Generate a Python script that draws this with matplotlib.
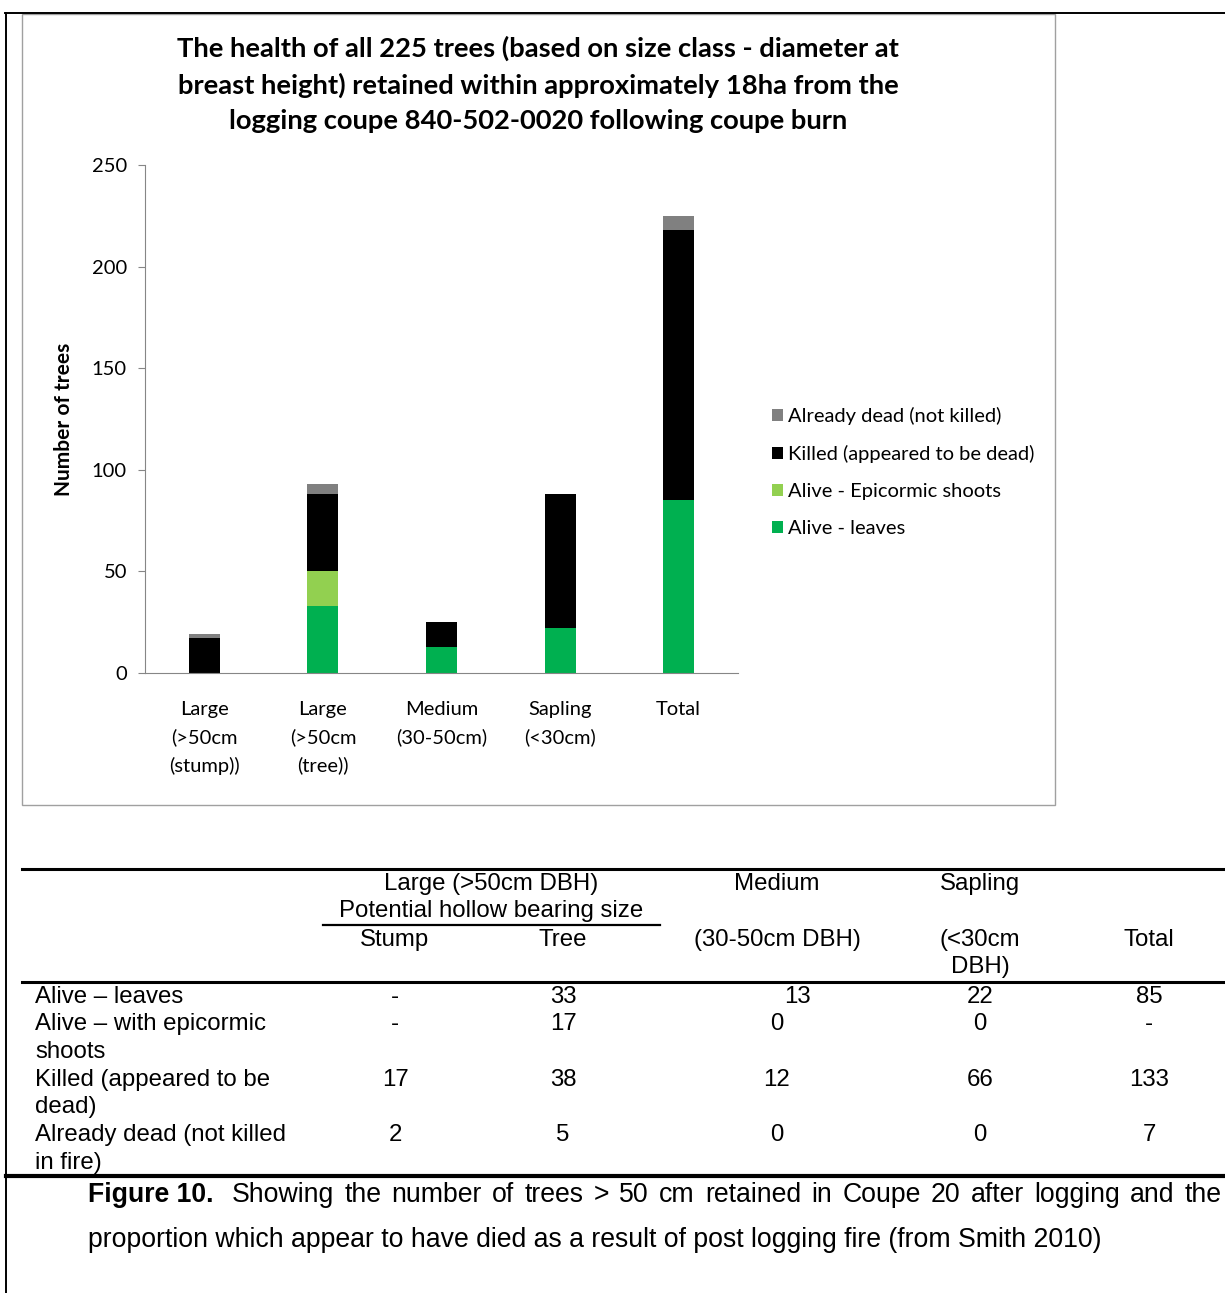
import matplotlib.pyplot as plt
from matplotlib.patches import Rectangle
from matplotlib.lines import Line2D

W, H = 1225, 1293

# bar chart data (trees per size class)
categories = ['Large\n(>50cm\n(stump))', 'Large\n(>50cm\n(tree))', 'Medium\n(30-50cm)',
              'Sapling\n(<30cm)', 'Total']
alive_leaves = [0, 33, 13, 22, 85]
alive_epicormic = [0, 17, 0, 0, 0]
killed = [17, 38, 12, 66, 133]
already_dead = [2, 5, 0, 0, 7]

# table contents
row_labels = [['Alive \u2013 leaves'],
              ['Alive \u2013 with epicormic', 'shoots'],
              ['Killed (appeared to be', 'dead)'],
              ['Already dead (not killed', 'in fire)']]
table_values = [['-', '33', '13', '22', '85'],
                ['-', '17', '0', '0', '-'],
                ['17', '38', '12', '66', '133'],
                ['2', '5', '0', '0', '7']]

title_lines = ['The health of all 225 trees (based on size class - diameter at',
               'breast height) retained within approximately 18ha from the',
               'logging coupe 840-502-0020 following coupe burn']
caption_1 = 'Showing the number of trees > 50 cm retained in Coupe 20 after logging and the'
caption_2 = 'proportion which appear to have died as a result of post logging fire (from Smith 2010)'

c_dead = '#808080'
c_killed = '#000000'
c_epi = '#92d050'
c_leaves = '#00b050'

CHART_FONT = ['Lato', 'DejaVu Sans']
TABLE_FONT = ['Liberation Sans', 'DejaVu Sans']


def fx(x):
    return x / W


def fy(y):
    return 1 - y / H


fig = plt.figure(figsize=(W / 100, H / 100), dpi=100)


def hline(x0, x1, y, lw, color='black'):
    fig.add_artist(Line2D([fx(x0), fx(x1)], [fy(y), fy(y)], color=color, lw=lw,
                          transform=fig.transFigure))


def vline(x, y0, y1, lw, color='black'):
    fig.add_artist(Line2D([fx(x), fx(x)], [fy(y0), fy(y1)], color=color, lw=lw,
                          transform=fig.transFigure))


# page frame
hline(5, W, 13, 1.4)
vline(6, 13, H, 1.4)

# chart box
fig.add_artist(Rectangle((fx(22), fy(805)), fx(1055 - 22), fy(14) - fy(805),
                         fill=False, edgecolor='#a0a0a0', lw=1.0,
                         transform=fig.transFigure))

for t, y in zip(title_lines, [48, 85, 121]):
    fig.text(fx(538), fy(y), t, ha='center', va='center', fontsize=19.7,
             fontweight='bold', family=CHART_FONT)

ax = fig.add_axes([fx(145), fy(673), fx(738 - 145), fy(165) - fy(673)])
x = list(range(len(categories)))
bw = 0.26
b1 = ax.bar(x, alive_leaves, bw, color=c_leaves, label='Alive - leaves')
bottom = [a for a in alive_leaves]
b2 = ax.bar(x, alive_epicormic, bw, bottom=bottom, color=c_epi, label='Alive - Epicormic shoots')
bottom = [a + b for a, b in zip(bottom, alive_epicormic)]
b3 = ax.bar(x, killed, bw, bottom=bottom, color=c_killed, label='Killed (appeared to be dead)')
bottom = [a + b for a, b in zip(bottom, killed)]
b4 = ax.bar(x, already_dead, bw, bottom=bottom, color=c_dead, label='Already dead (not killed)')

ax.set_xlim(-0.5, 4.5)
ax.set_ylim(0, 250)
ax.set_yticks(range(0, 251, 50))
for s in ['top', 'right']:
    ax.spines[s].set_visible(False)
for s in ['left', 'bottom']:
    ax.spines[s].set_color('#868686')
ax.set_xticks(x)
ax.set_xticklabels(categories, family=CHART_FONT, fontsize=14.5, linespacing=1.7,
                   va='top')
ax.tick_params(axis='x', length=0, pad=20)
ax.tick_params(axis='y', length=5, color='#868686', pad=8)
for lab in ax.get_yticklabels():
    lab.set_family(CHART_FONT)
    lab.set_fontsize(14.5)
ax.set_ylabel('Number of trees', family=CHART_FONT, fontsize=15,
              fontweight='bold', va='center')
ax.yaxis.set_label_coords(fx(64 - 145) / fx(738 - 145), 0.5)

fig.legend(handles=[b4, b3, b2, b1], loc='center left',
           bbox_to_anchor=(fx(754), fy(472)), frameon=False,
           prop={'family': CHART_FONT, 'size': 14.5}, handlelength=0.55,
           handleheight=0.55, handletextpad=0.25, labelspacing=1.0)

# table rules
hline(22, W, 869, 2.2)
hline(323, 660, 925, 1.6)
hline(22, W, 982, 2.2)
hline(6, W, 1176, 3.0)

tkw = dict(family=TABLE_FONT, fontsize=17.3, va='center')
col_x = [395, 563, 777, 980, 1149]

fig.text(fx(491), fy(884), 'Large (>50cm DBH)', ha='center', **tkw)
fig.text(fx(491), fy(911), 'Potential hollow bearing size', ha='center', **tkw)
fig.text(fx(395), fy(940), 'Stump', ha='center', **tkw)
fig.text(fx(563), fy(940), 'Tree', ha='center', **tkw)
fig.text(fx(777), fy(884), 'Medium', ha='center', **tkw)
fig.text(fx(777), fy(940), '(30-50cm DBH)', ha='center', **tkw)
fig.text(fx(980), fy(884), 'Sapling', ha='center', **tkw)
fig.text(fx(980), fy(940), '(<30cm', ha='center', **tkw)
fig.text(fx(980), fy(967), 'DBH)', ha='center', **tkw)
fig.text(fx(1149), fy(940), 'Total', ha='center', **tkw)

row_y = [997, 1024, 1080, 1135]
line_gap = 27.5
for labels, vals, y in zip(row_labels, table_values, row_y):
    for k, t in enumerate(labels):
        fig.text(fx(35), fy(y + k * line_gap), t, ha='left', **tkw)
    for cx, v in zip(col_x, vals):
        if v == '13':
            cx += 20
        fig.text(fx(cx), fy(y), v, ha='center', **tkw)

# caption, first line justified between the margins
ckw = dict(family=TABLE_FONT, fontsize=19.2, va='center')
renderer = fig.canvas.get_renderer()
words = [('Figure 10.', 'bold')] + [(w, 'normal') for w in caption_1.split()]
arts = [fig.text(0, fy(1195), w, ha='left', fontweight=fw, **ckw) for w, fw in words]
widths = [a.get_window_extent(renderer).width for a in arts]
left, right = 88, 1222
extra = 8  # wider break after the figure number
gap = (right - left - sum(widths) - extra) / (len(arts) - 1)
pos = left
for i, (a, w) in enumerate(zip(arts, widths)):
    a.set_x(fx(pos))
    pos += w + gap + (extra if i == 0 else 0)
fig.text(fx(88), fy(1240), caption_2, ha='left', **ckw)

fig.savefig('out.png', dpi=100)
